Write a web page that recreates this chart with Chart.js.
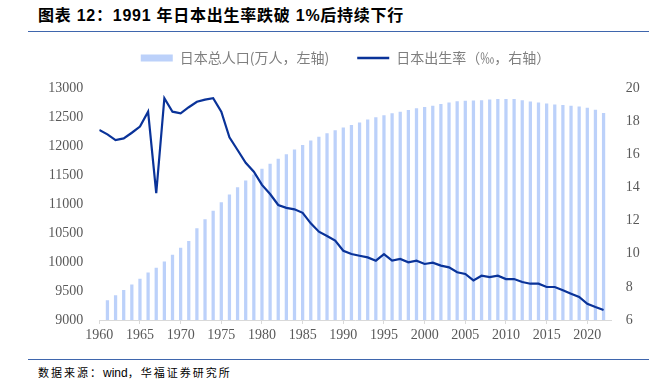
<!DOCTYPE html>
<html><head><meta charset="utf-8">
<script src="https://cdn.jsdelivr.net/npm/chart.js@4"></script>
<style>
html,body{margin:0;padding:0;background:#fff;}
body{width:665px;height:382px;position:relative;overflow:hidden;}
#title{position:absolute;left:38px;top:6px;font:bold 16px "Liberation Sans","Noto Sans CJK SC",sans-serif;letter-spacing:0.75px;line-height:20px;color:#000;white-space:nowrap;}
.rule{position:absolute;left:28px;width:621px;height:0;border-top:1.5px solid #3f66ad;}
#footer{position:absolute;left:38px;top:364px;font:11px "Noto Sans CJK SC",sans-serif;letter-spacing:2px;line-height:16px;color:#000;white-space:nowrap;}
#footer .lat{letter-spacing:0;font-family:"Liberation Sans",sans-serif;font-size:12px;}
#c{position:absolute;left:0;top:23px;}
</style></head>
<body>
<div id="title">图表 12：1991 年日本出生率跌破 1%后持续下行</div>
<div class="rule" style="top:31px"></div>
<canvas id="c" width="665" height="330"></canvas>
<div class="rule" style="top:359px"></div>
<div id="footer">数据来源：<span class="lat">wind</span>，华福证券研究所</div>
<script>
// categories (years)
const years = [1960,1961,1962,1963,1964,1965,1966,1967,1968,1969,
  1970,1971,1972,1973,1974,1975,1976,1977,1978,1979,
  1980,1981,1982,1983,1984,1985,1986,1987,1988,1989,
  1990,1991,1992,1993,1994,1995,1996,1997,1998,1999,
  2000,2001,2002,2003,2004,2005,2006,2007,2008,2009,
  2010,2011,2012,2013,2014,2015,2016,2017,2018,2019,
  2020,2021,2022];

// 日本总人口（万人，左轴）
const population = [null,9335,9420,9510,9605,9705,9815,9895,10005,10120,
  10240,10355,10575,10730,10880,11025,11160,11285,11400,11505,
  11600,11690,11775,11850,11935,12010,12090,12155,12215,12265,
  12315,12355,12400,12450,12490,12525,12560,12585,12615,12645,
  12665,12690,12720,12745,12765,12775,12780,12785,12795,12805,
  12805,12805,12785,12760,12745,12725,12710,12700,12690,12675,
  12655,12620,12565];

// 日本出生率（‰，右轴）
const birthRate = [17.47,17.2,16.86,16.96,17.3,17.67,18.57,13.65,19.38,18.57,
  18.47,18.84,19.17,19.3,19.38,18.57,17.03,16.26,15.49,14.95,
  14.15,13.6,12.94,12.77,12.68,12.47,11.83,11.33,11.07,10.79,
  10.18,9.98,9.88,9.78,9.58,9.98,9.58,9.68,9.48,9.58,
  9.38,9.46,9.28,9.18,8.88,8.78,8.39,8.67,8.59,8.67,
  8.47,8.47,8.29,8.19,8.19,7.99,7.99,7.79,7.59,7.39,
  6.98,6.78,6.6];

// axis ranges / tick steps
const xRange = [1960, 2023]; const xStep = 5;
const popRange = [9000, 13000]; const popStep = 500;
const rateRange = [6, 20]; const rateStep = 2;

const seriesNames = ['日本总人口(万人，左轴)', '日本出生率（‰，右轴）'];

const barColor = '#bcd1fa';
const lineColor = '#0a3399';
const tickFont = { family: '"Liberation Serif", serif', size: 14 };
const tickColor = '#595959';
const axisColor = '#d9d9d9';

const legendGap = {
  id: 'legendGap',
  beforeInit(chart) {
    const fit = chart.legend.fit;
    chart.legend.fit = function () { fit.call(this); this.height += 13; };
  }
};

new Chart(document.getElementById('c'), {
  type: 'bar',
  data: {
    labels: years,
    datasets: [
      { type: 'bar', label: seriesNames[0], data: population, yAxisID: 'y',
        backgroundColor: barColor, borderWidth: 0, barThickness: 2.6, order: 2 },
      { type: 'line', label: seriesNames[1], data: birthRate, yAxisID: 'y1',
        borderColor: lineColor, backgroundColor: lineColor, borderWidth: 2.2,
        pointRadius: 0, tension: 0, fill: false, order: 1 }
    ]
  },
  options: {
    responsive: false,
    devicePixelRatio: 1,
    animation: false,
    layout: { padding: { left: 26, right: 0, top: 0, bottom: 0 } },
    plugins: {
      tooltip: { enabled: false },
      legend: {
        display: true,
        position: 'top',
        align: 'center',
        labels: {
          usePointStyle: true,
          pointStyleWidth: 32,
          boxHeight: 7,
          padding: 28,
          color: '#7f7f7f',
          font: { family: '"Noto Sans CJK SC", sans-serif', size: 14 },
          generateLabels: () => [
            { text: seriesNames[0], fillStyle: barColor, strokeStyle: barColor, lineWidth: 0,
              pointStyle: 'rect', hidden: false, datasetIndex: 0, fontColor: '#7f7f7f' },
            { text: seriesNames[1], fillStyle: 'rgba(0,0,0,0)', strokeStyle: lineColor, lineWidth: 2.5,
              pointStyle: 'line', hidden: false, datasetIndex: 1, fontColor: '#7f7f7f' }
          ]
        }
      }
    },
    scales: {
      x: {
        type: 'linear',
        min: xRange[0], max: xRange[1],
        offset: false,
        grid: { display: true, offset: false, drawOnChartArea: false, drawTicks: true, tickLength: 4, color: axisColor },
        border: { display: true, color: axisColor, width: 1 },
        ticks: { stepSize: xStep, includeBounds: false, autoSkip: false, maxRotation: 0, minRotation: 0,
          padding: 3, font: tickFont, color: tickColor, callback: v => String(v) },
        afterFit: s => { s.height = 33; }
      },
      y: {
        position: 'left',
        min: popRange[0], max: popRange[1],
        grid: { display: false, drawTicks: false },
        border: { display: false },
        ticks: { stepSize: popStep, padding: 16, font: tickFont, color: tickColor, callback: v => String(v) },
        afterFit: s => { s.width = 73.3; }
      },
      y1: {
        position: 'right',
        min: rateRange[0], max: rateRange[1],
        grid: { display: false, drawTicks: false },
        border: { display: false },
        ticks: { stepSize: rateStep, padding: 14, font: tickFont, color: tickColor, callback: v => String(v) },
        afterFit: s => { s.width = 53.3; }
      }
    }
  },
  plugins: [legendGap]
});
</script>
</body></html>
